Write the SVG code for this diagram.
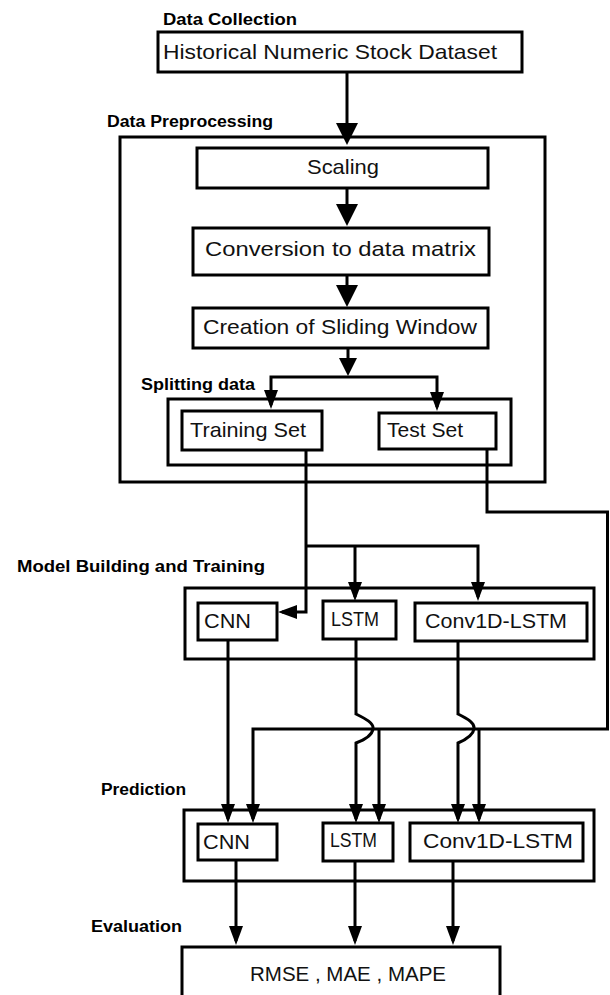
<svg xmlns="http://www.w3.org/2000/svg" width="610" height="995" viewBox="0 0 610 995">
<style>
.box{fill:#fff;stroke:#000;stroke-width:3}
.frame{fill:none;stroke:#000;stroke-width:3}
.ln{fill:none;stroke:#000;stroke-width:3}
.t{font-family:"Liberation Sans",Arial,sans-serif;font-size:21px;fill:#111}
.h{font-family:"Liberation Sans",Arial,sans-serif;font-size:16px;font-weight:bold;fill:#000}
</style>
<defs>
<marker id="big" viewBox="0 0 22 22" markerWidth="22" markerHeight="22" refX="18" refY="11" orient="auto" markerUnits="userSpaceOnUse"><path d="M0,0 L22,11 L0,22 z" fill="#000"/></marker>
<marker id="mid" viewBox="0 0 18 18" markerWidth="18" markerHeight="18" refX="14" refY="9" orient="auto" markerUnits="userSpaceOnUse"><path d="M0,0 L18,9 L0,18 z" fill="#000"/></marker>
<marker id="sm" viewBox="0 0 19 14" markerWidth="19" markerHeight="14" refX="15" refY="7" orient="auto" markerUnits="userSpaceOnUse"><path d="M0,0 L19,7 L0,14 z" fill="#000"/></marker>
</defs>

<g id="stage-labels">
<text class="h" x="163" y="25" textLength="134" lengthAdjust="spacingAndGlyphs">Data Collection</text>
<text class="h" x="107" y="127" textLength="166" lengthAdjust="spacingAndGlyphs">Data Preprocessing</text>
<text class="h" x="141" y="390" textLength="114" lengthAdjust="spacingAndGlyphs">Splitting data</text>
<text class="h" x="17" y="572" textLength="248" lengthAdjust="spacingAndGlyphs">Model Building and Training</text>
<text class="h" x="101" y="795" textLength="85" lengthAdjust="spacingAndGlyphs">Prediction</text>
<text class="h" x="91" y="932" textLength="91" lengthAdjust="spacingAndGlyphs">Evaluation</text>
</g>

<g id="preprocessing-frame"><rect class="frame" x="120" y="137" width="425" height="345"/></g>
<g id="splitting-frame"><rect class="frame" x="168" y="399" width="343" height="66"/></g>
<g id="model-frame"><rect class="frame" x="185" y="588" width="409" height="71"/></g>
<g id="prediction-frame"><rect class="frame" x="184" y="810" width="410" height="71"/></g>

<g id="connectors">
<path class="ln" d="M347,72 V141" marker-end="url(#big)"/>
<path class="ln" d="M347,188 V222" marker-end="url(#big)"/>
<path class="ln" d="M347,275 V303" marker-end="url(#big)"/>
<path class="ln" d="M348,348 V372" marker-end="url(#mid)"/>
<path class="ln" d="M348,377 H271 V405" marker-end="url(#sm)"/>
<path class="ln" d="M348,377 H437 V407" marker-end="url(#sm)"/>
<path class="ln" d="M306,450 V612 H282" marker-end="url(#sm)"/>
<path class="ln" d="M306,546 H478 V597" marker-end="url(#sm)"/>
<path class="ln" d="M355,546 V597" marker-end="url(#sm)"/>
<path class="ln" d="M487,449 V512 H607.5 V729 H253 V819" marker-end="url(#sm)"/>
<path class="ln" d="M379,729 V819" marker-end="url(#sm)"/>
<path class="ln" d="M479,729 V819" marker-end="url(#sm)"/>
<path class="ln" d="M228,640 V819" marker-end="url(#sm)"/>
<path class="ln" d="M356,639 V714 C366,719 374,723 373,729 C372,736 364,740 356,743 V819" marker-end="url(#sm)"/>
<path class="ln" d="M458,641 V714 C468,719 475,723 474,729 C473,736 465,740 458,743 V819" marker-end="url(#sm)"/>
<path class="ln" d="M236,861 V941" marker-end="url(#sm)"/>
<path class="ln" d="M355,861 V941" marker-end="url(#sm)"/>
<path class="ln" d="M453,861 V941" marker-end="url(#sm)"/>
</g>

<g id="historical-dataset"><rect class="box" x="158" y="32" width="364" height="40"/><text class="t" x="163" y="59" textLength="334" lengthAdjust="spacingAndGlyphs">Historical Numeric Stock Dataset</text></g>
<g id="scaling"><rect class="box" x="197" y="148" width="291" height="40"/><text class="t" x="307" y="174" textLength="72" lengthAdjust="spacingAndGlyphs">Scaling</text></g>
<g id="conversion"><rect class="box" x="193" y="228" width="296" height="47"/><text class="t" x="205" y="256" textLength="271" lengthAdjust="spacingAndGlyphs">Conversion to data matrix</text></g>
<g id="sliding-window"><rect class="box" x="193" y="308" width="295" height="40"/><text class="t" x="203" y="334" textLength="274" lengthAdjust="spacingAndGlyphs">Creation of Sliding Window</text></g>
<g id="training-set"><rect class="box" x="182" y="411" width="140" height="39"/><text class="t" x="190" y="437" textLength="116" lengthAdjust="spacingAndGlyphs">Training Set</text></g>
<g id="test-set"><rect class="box" x="379" y="413" width="117" height="36"/><text class="t" x="387" y="437" textLength="76" lengthAdjust="spacingAndGlyphs">Test Set</text></g>

<g id="model-cnn"><rect class="box" x="198" y="603" width="79" height="37"/><text class="t" x="204" y="628" textLength="47" lengthAdjust="spacingAndGlyphs">CNN</text></g>
<g id="model-lstm"><rect class="box" x="323" y="601" width="73" height="38"/><text class="t" x="331" y="626" textLength="48" lengthAdjust="spacingAndGlyphs">LSTM</text></g>
<g id="model-conv1d-lstm"><rect class="box" x="415" y="603" width="172" height="38"/><text class="t" x="425" y="628" textLength="142" lengthAdjust="spacingAndGlyphs">Conv1D-LSTM</text></g>

<g id="pred-cnn"><rect class="box" x="198" y="824" width="79" height="36"/><text class="t" x="203" y="849" textLength="47" lengthAdjust="spacingAndGlyphs">CNN</text></g>
<g id="pred-lstm"><rect class="box" x="323" y="823" width="70" height="38"/><text class="t" x="330" y="847" textLength="47" lengthAdjust="spacingAndGlyphs">LSTM</text></g>
<g id="pred-conv1d-lstm"><rect class="box" x="410" y="823" width="173" height="38"/><text class="t" x="423" y="848" textLength="150" lengthAdjust="spacingAndGlyphs">Conv1D-LSTM</text></g>

<g id="evaluation-metrics"><rect class="box" x="182" y="947" width="318" height="60"/><text class="t" x="250" y="981" font-size="23" textLength="196" lengthAdjust="spacingAndGlyphs">RMSE , MAE , MAPE</text></g>
</svg>
